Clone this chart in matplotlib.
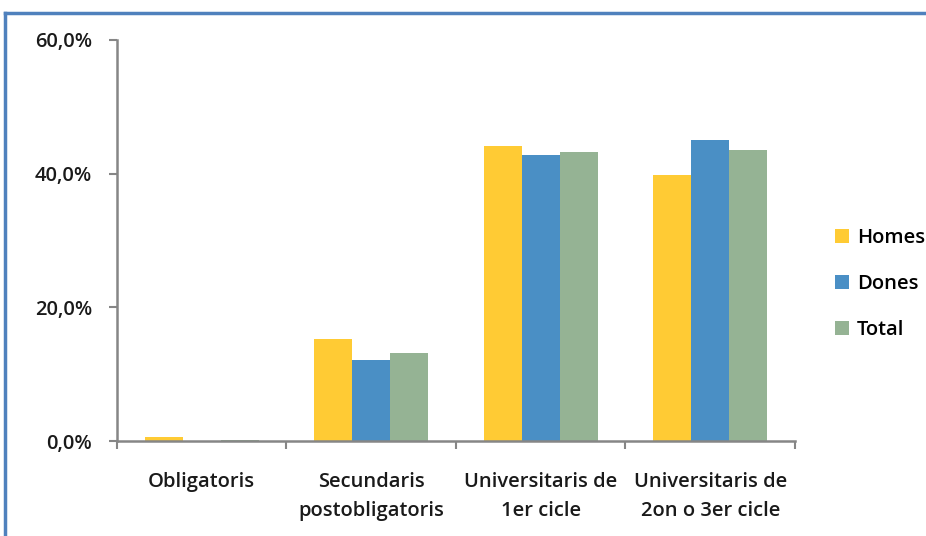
""" Nivell d'estudis per sexe - grafic de barres """

import numpy as np
import matplotlib.pyplot as plt
from matplotlib.lines import Line2D

# data
categories = ["Obligatoris", "Secundaris\npostobligatoris",
              "Universitaris de\n1er cicle", "Universitaris de\n2on o 3er cicle"]
homes = [0.6, 15.3, 44.1, 39.8]
dones = [0.0, 12.1, 42.8, 45.0]
total = [0.2, 13.2, 43.2, 43.5]
series_names = ["Homes", "Dones", "Total"]
colors = ["#FFCB34", "#4A8FC5", "#95B394"]
yticks = [0, 20, 40, 60]
ytick_labels = ["0,0%", "20,0%", "40,0%", "60,0%"]

plt.rcParams["font.family"] = ["Open Sans", "DejaVu Sans"]
plt.rcParams["font.weight"] = 600
txt_color = "#1a1a1a"
axis_color = "#868686"
fs = 14.5

fig = plt.figure(figsize=(9.26, 5.36), dpi=100)
ax = fig.add_axes([0.1263, 0.1772, 0.7322, 0.7482])

x = np.arange(len(categories))
w = 0.224
for i, (vals, name) in enumerate(zip([homes, dones, total], series_names)):
    ax.bar(x + (i - 1) * w, vals, w, color=colors[i], label=name, zorder=2)

ax.set_xlim(-0.5, len(categories) - 0.5)
ax.set_ylim(0, 60)
ax.set_yticks(yticks)
ax.set_yticklabels(ytick_labels, fontsize=fs, color=txt_color)

ax.set_xticks(x)
ax.set_xticklabels(categories, fontsize=fs, color=txt_color, linespacing=1.62)
ax.tick_params(axis="x", length=0, pad=22)
ax.set_xticks(np.arange(len(categories) + 1) - 0.5, minor=True)
ax.tick_params(axis="x", which="minor", length=6, width=1.5, color=axis_color)
ax.tick_params(axis="y", length=6, width=1.5, color=axis_color, pad=12)

for s in ["top", "right"]:
    ax.spines[s].set_visible(False)
for s in ["left", "bottom"]:
    ax.spines[s].set_color(axis_color)
    ax.spines[s].set_linewidth(1.8)

fig.legend(loc="center left", bbox_to_anchor=(0.882, 0.470), frameon=False,
           handlelength=0.7, handleheight=0.7, handletextpad=0.4,
           labelspacing=1.3, prop={"size": fs, "weight": 600})

# blue frame (top and left edges)
fig.add_artist(Line2D([0.0055, 1.0], [0.976, 0.976], color="#4F81BD", lw=2.5,
                      transform=fig.transFigure))
fig.add_artist(Line2D([0.0055, 0.0055], [0.0, 0.976], color="#4F81BD", lw=2.5,
                      transform=fig.transFigure))

fig.savefig("out.png", dpi=100)
